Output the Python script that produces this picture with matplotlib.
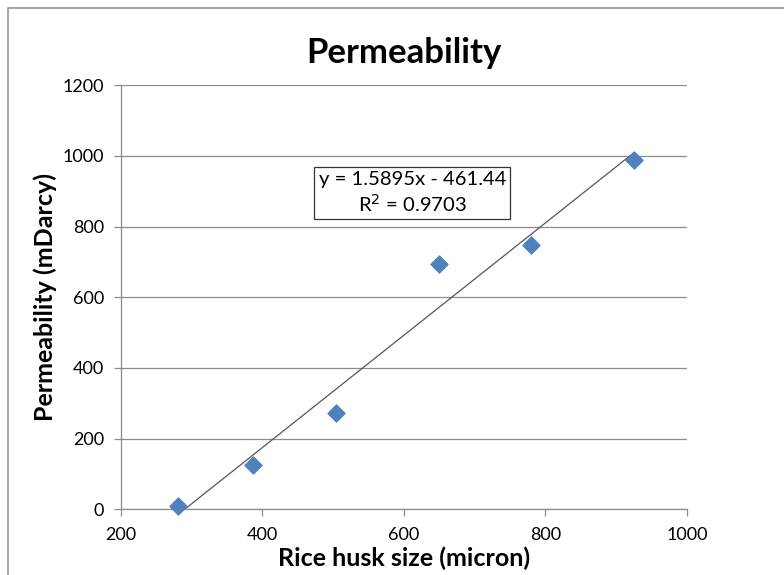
import numpy as np
import matplotlib.pyplot as plt
from matplotlib.patches import Rectangle

plt.rcParams['font.family'] = ['Lato', 'DejaVu Sans']

husk_size = [281, 387, 504, 650, 780, 925]
permeability = [8, 125, 272, 695, 749, 988]
slope = 1.5895
intercept = -461.44
x_ticks = [200, 400, 600, 800, 1000]
y_ticks = [0, 200, 400, 600, 800, 1000, 1200]

fig = plt.figure(figsize=(7.84, 5.75), dpi=100)
ax = fig.add_axes([0.154, 0.1143, 0.722, 0.7374])

# outer chart frame (cropped at right and bottom)
fig.patches.append(Rectangle((8 / 784, -0.1), 1.2, (575 - 8) / 575 + 0.1,
                             transform=fig.transFigure, fill=False,
                             edgecolor='#969696', linewidth=1.2))

# trendline over the data range
xs = np.array([min(husk_size), max(husk_size)])
ax.plot(xs, slope * xs + intercept, color='#555555', linewidth=0.9, zorder=2)
ax.scatter(husk_size, permeability, marker='D', s=75, color='#4F81BD',
           edgecolors='#4F81BD', zorder=3, clip_on=False)

ax.set_xlim(200, 1000)
ax.set_ylim(0, 1200)
ax.set_xticks(x_ticks)
ax.set_yticks(y_ticks)
ax.yaxis.grid(True, color='#8c8c8c', linewidth=0.9)
ax.set_axisbelow(True)
for s in ['top', 'right']:
    ax.spines[s].set_visible(False)
for s in ['left', 'bottom']:
    ax.spines[s].set_color('#8c8c8c')
    ax.spines[s].set_linewidth(0.9)
ax.tick_params(axis='both', colors='#8c8c8c', length=5, width=0.9,
               labelsize=13, labelcolor='black')
ax.tick_params(axis='x', pad=8)
ax.tick_params(axis='y', pad=7)

ax.set_title('Permeability', fontsize=25, fontweight='bold', pad=16)
ax.set_xlabel('Rice husk size (micron)', fontsize=18, fontweight='bold', labelpad=2)
ax.set_ylabel('Permeability (mDarcy)', fontsize=18, fontweight='bold', labelpad=4)

ax.text(612, 895, 'y = 1.5895x - 461.44\nR$^2$ = 0.9703', ha='center', va='center',
        fontsize=14.6, linespacing=1.25,
        bbox=dict(boxstyle='square,pad=0.2', facecolor='white', edgecolor='#333333',
                  linewidth=0.9))

fig.savefig('out.png', dpi=100)
